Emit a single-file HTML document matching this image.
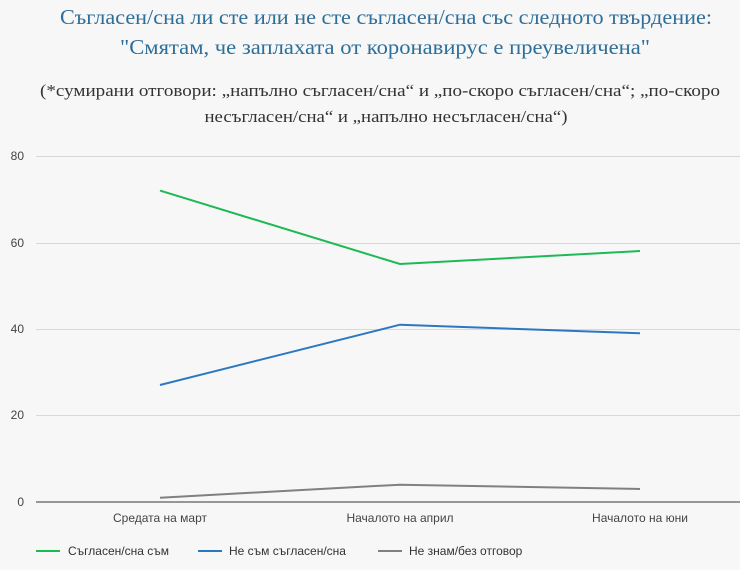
<!DOCTYPE html>
<html><head><meta charset="utf-8"><style>
html,body{margin:0;padding:0;background:#f7f7f7;}
svg{display:block;font-family:"Liberation Sans",sans-serif;}
</style></head><body>
<svg width="740" height="570" viewBox="0 0 740 570">
<rect width="740" height="570" fill="#f7f7f7"/>
<g font-family="Liberation Serif, serif" text-anchor="middle">
<text x="386" y="24" font-size="21" fill="#2e6f9a" textLength="652" lengthAdjust="spacingAndGlyphs">Съгласен/сна ли сте или не сте съгласен/сна със следното твърдение:</text>
<text x="385" y="54" font-size="21" fill="#2e6f9a" textLength="530" lengthAdjust="spacingAndGlyphs">"Смятам, че заплахата от коронавирус е преувеличена"</text>
<text x="380" y="96" font-size="17" fill="#333" textLength="680" lengthAdjust="spacingAndGlyphs">(*сумирани отговори: „напълно съгласен/сна“ и „по-скоро съгласен/сна“; „по-скоро</text>
<text x="386" y="122" font-size="17" fill="#333" textLength="363" lengthAdjust="spacingAndGlyphs">несъгласен/сна“ и „напълно несъгласен/сна“)</text>
</g>
<g stroke="#d9d9d9" stroke-width="1">
<line x1="36" y1="156.5" x2="740" y2="156.5"/>
<line x1="36" y1="243.5" x2="740" y2="243.5"/>
<line x1="36" y1="329.5" x2="740" y2="329.5"/>
<line x1="36" y1="415.5" x2="740" y2="415.5"/>
</g>
<line x1="36" y1="502" x2="740" y2="502" stroke="#777" stroke-width="1.5"/>
<g font-size="12" fill="#444" text-anchor="end">
<text x="24" y="160">80</text><text x="24" y="247">60</text><text x="24" y="333">40</text><text x="24" y="419">20</text><text x="24" y="506">0</text>
</g>
<g font-size="12" fill="#444" text-anchor="middle">
<text x="160" y="522">Средата на март</text><text x="400" y="522">Началото на април</text><text x="640" y="522">Началото на юни</text>
</g>
<g fill="none" stroke-width="2">
<polyline points="160,190.6 400,264 640,251" stroke="#1db954"/>
<polyline points="160,385 400,324.7 640,333.3" stroke="#2b78c2"/>
<polyline points="160,497.7 400,484.7 640,489" stroke="#808080"/>
</g>
<g font-size="12" fill="#333">
<line x1="36" y1="551" x2="60" y2="551" stroke="#1db954" stroke-width="2"/><text x="68" y="555">Съгласен/сна съм</text>
<line x1="198" y1="551" x2="222" y2="551" stroke="#2b78c2" stroke-width="2"/><text x="229" y="555">Не съм съгласен/сна</text>
<line x1="378" y1="551" x2="402" y2="551" stroke="#808080" stroke-width="2"/><text x="409" y="555">Не знам/без отговор</text>
</g>
</svg>
</body></html>
